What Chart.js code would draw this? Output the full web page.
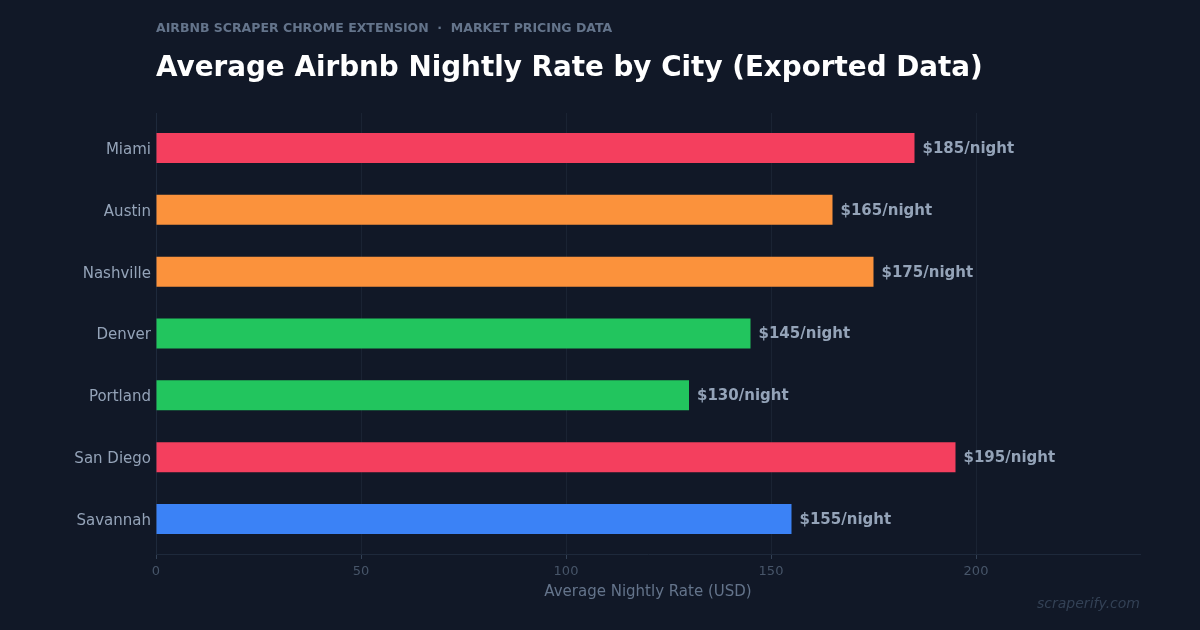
<!DOCTYPE html>
<html>
<head>
<meta charset="utf-8">
<script src="https://cdn.jsdelivr.net/npm/chart.js@4"></script>
<style>
  html, body { margin: 0; padding: 0; background: #111827; }
  body { width: 1200px; height: 630px; position: relative; overflow: hidden; font-family: "DejaVu Sans", sans-serif; }
  #sub { position: absolute; left: 156px; top: 20px; font-size: 12.5px; font-weight: bold; color: #64748B; white-space: pre; }
  #title { position: absolute; left: 156px; top: 50px; font-size: 27.8px; font-weight: bold; color: #ffffff; white-space: nowrap; }
  #mark { position: absolute; right: 60px; top: 595px; font-size: 14px; font-style: italic; color: #334155; }
  #wrap { position: absolute; left: 0; top: 0; width: 1200px; height: 630px; }
</style>
</head>
<body>
<div id="wrap"><canvas id="chartRates" width="1200" height="630"></canvas></div>
<div id="sub">AIRBNB SCRAPER CHROME EXTENSION  ·  MARKET PRICING DATA</div>
<div id="title">Average Airbnb Nightly Rate by City (Exported Data)</div>
<div id="mark">scraperify.com</div>
<script>
var cities = ["Miami", "Austin", "Nashville", "Denver", "Portland", "San Diego", "Savannah"];
var rates = [185, 165, 175, 145, 130, 195, 155];
var barColors = ["#F43F5E", "#FB923C", "#FB923C", "#22C55E", "#22C55E", "#F43F5E", "#3B82F6"];
var xTicks = [0, 50, 100, 150, 200];

// leave a little air above the first and below the last bar
var yInset = {
    id: 'yInset',
    afterLayout: function(chart) {
        var y = chart.scales.y;
        y._startPixel += 4;
        y._endPixel -= 4;
        y._length -= 8;
    }
};

// draws "$185/night" next to each bar
var valueLabels = {
    id: 'valueLabels',
    afterDatasetsDraw: function(chart) {
        var ctx = chart.ctx;
        var meta = chart.getDatasetMeta(0);
        ctx.save();
        ctx.font = 'bold 15px "DejaVu Sans"';
        ctx.fillStyle = '#94A3B8';
        ctx.textAlign = 'left';
        ctx.textBaseline = 'middle';
        meta.data.forEach(function(bar, i) {
            ctx.fillText('$' + rates[i] + '/night', bar.x + 8, bar.y + 1);
        });
        ctx.restore();
    }
};

var chart = new Chart(document.getElementById('chartRates').getContext('2d'), {
    type: 'bar',
    data: {
        labels: cities,
        datasets: [{
            data: rates,
            backgroundColor: barColors,
            borderWidth: 0,
            categoryPercentage: 1,
            barPercentage: 0.485
        }]
    },
    options: {
        indexAxis: 'y',
        responsive: false,
        animation: false,
        layout: { padding: { left: 0, right: 60, top: 113, bottom: 26 } },
        plugins: { legend: { display: false }, tooltip: { enabled: false } },
        scales: {
            x: {
                min: 0,
                max: 240,
                afterBuildTicks: function(scale) {
                    scale.ticks = xTicks.map(function(v) { return { value: v }; });
                },
                afterFit: function(scale) { scale.height = 50; },
                grid: { color: '#1A2333', tickColor: '#334155', tickLength: 5, lineWidth: 1 },
                border: { color: '#1E293B' },
                ticks: { color: '#475569', font: { family: 'DejaVu Sans', size: 13 }, padding: 5 },
                title: {
                    display: true,
                    text: 'Average Nightly Rate (USD)',
                    color: '#64748B',
                    font: { family: 'DejaVu Sans', size: 15 },
                    padding: { top: 4, bottom: 3 }
                }
            },
            y: {
                afterFit: function(scale) { scale.width = 156; },
                grid: { display: false, drawTicks: false },
                border: { color: '#1E293B' },
                ticks: { color: '#94A3B8', font: { family: 'DejaVu Sans', size: 15 }, padding: 5, labelOffset: 2 }
            }
        }
    },
    plugins: [yInset, valueLabels]
});
</script>
</body>
</html>
